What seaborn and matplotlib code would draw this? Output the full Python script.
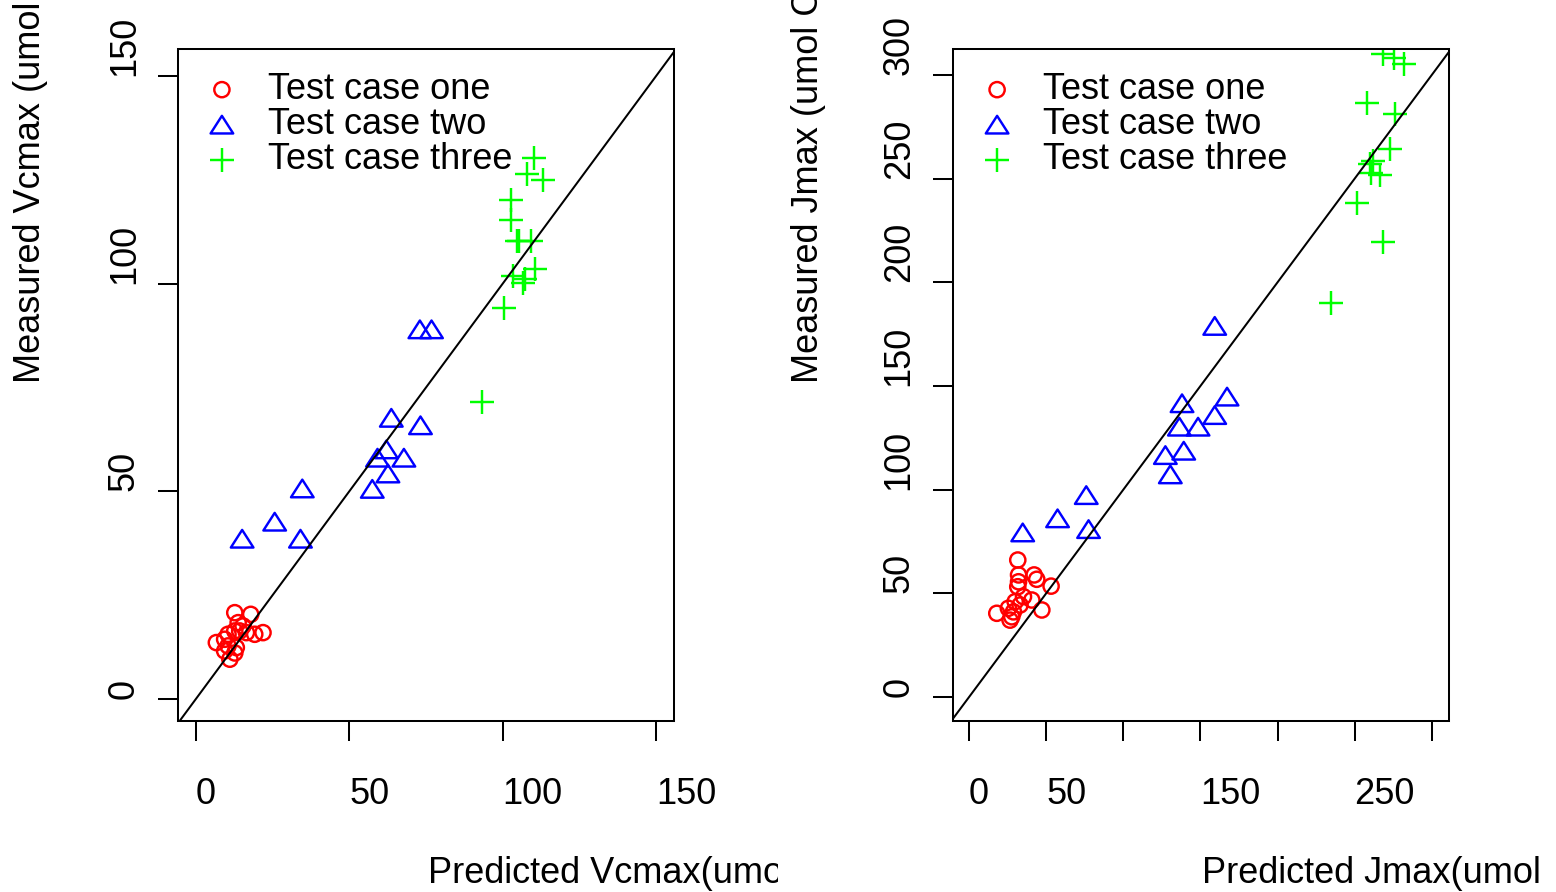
import numpy as np
import pandas as pd
import matplotlib
matplotlib.use("Agg")
import matplotlib.pyplot as plt
import seaborn as sns
from matplotlib.path import Path
from matplotlib.transforms import Bbox, TransformedBbox

# ---------------- data ----------------
legend_labels = ["Test case one", "Test case two", "Test case three"]

# Vcmax panel
vc_one_pred = [12.7, 17.9, 13.8, 15.4, 12.7, 14.3, 21.9, 19.2, 16.5, 10.5, 9.4, 6.7, 10.5, 9.4, 12.7, 11.1, 13.2]
vc_one_meas = [20.8, 20.4, 18.4, 17.6, 16.4, 16.4, 16.0, 15.6, 16.0, 15.6, 14.4, 13.6, 12.8, 11.6, 11.1, 9.6, 12.4]
vc_two_pred = [73.0, 76.8, 63.7, 73.2, 62.1, 59.2, 67.8, 62.6, 57.5, 34.7, 25.7, 15.1, 34.1]
vc_two_meas = [89.0, 89.0, 67.7, 65.9, 60.1, 58.1, 58.1, 54.3, 50.6, 50.7, 42.7, 38.6, 38.6]
vc_three_pred = [110.1, 107.9, 113.2, 102.6, 102.6, 104.5, 105.2, 109.3, 110.4, 103.4, 106.6, 107.4, 100.3, 93.4]
vc_three_meas = [130.2, 126.5, 124.9, 120.1, 115.3, 110.3, 110.3, 110.3, 103.5, 101.9, 100.2, 101.0, 94.1, 71.6]

# Jmax panel
jm_one_pred = [31.6, 32.1, 42.2, 43.9, 32.1, 31.6, 53.2, 35.3, 40.7, 29.9, 33.1, 47.2, 25.5, 18.0, 27.7, 26.6, 28.8]
jm_one_meas = [66.1, 58.9, 58.9, 56.8, 55.6, 53.2, 53.5, 48.4, 46.8, 46.0, 44.4, 42.0, 42.8, 40.4, 38.7, 37.1, 41.1]
jm_two_pred = [159.3, 138.1, 167.3, 159.3, 136.4, 148.5, 139.2, 127.3, 130.5, 76.0, 57.4, 77.5, 34.8]
jm_two_meas = [179.0, 141.7, 144.9, 136.0, 130.4, 130.4, 118.8, 116.7, 107.4, 97.4, 86.2, 81.0, 79.4]
jm_three_pred = [268.6, 275.5, 282.0, 257.8, 276.2, 272.9, 262.1, 260.0, 260.4, 266.4, 251.7, 268.6, 234.9]
jm_three_meas = [310.2, 308.1, 305.4, 286.4, 281.2, 264.2, 258.7, 257.1, 252.6, 251.8, 238.2, 219.3, 189.9]

vc_ticks = [0, 50, 100, 150]
vc_ticklabels = ["0", "50", "100", "150"]
jm_xticks = [0, 50, 100, 150, 200, 250, 300]
jm_xticklabels = ["0", "50", "", "150", "", "250", ""]
jm_yticks = [0, 50, 100, 150, 200, 250, 300]
jm_yticklabels = ["0", "50", "100", "150", "200", "250", "300"]

vc_xlabel = "Predicted Vcmax(umol m-2 s-1)"
vc_ylabel = "Measured Vcmax (umol m-2 s-1)"
jm_xlabel = "Predicted Jmax(umol m-2 s-1)"
jm_ylabel = "Measured Jmax (umol CO2 m-2 s-1)"

# ---------------- style ----------------
sns.set_style("white")
plt.rcParams["font.family"] = ["Liberation Sans", "DejaVu Sans"]
plt.rcParams["text.color"] = "black"
FS = 26
LW = 1.45
MLW = 1.75

tri = Path([(0, 0.78), (-1, -0.78), (1, -0.78), (0, 0.78)],
           [Path.MOVETO, Path.LINETO, Path.LINETO, Path.CLOSEPOLY])
styles = [
    dict(marker="o", s=120, color="#FF0000", facecolor="none", edgecolor="#FF0000", linewidth=MLW),
    dict(marker=tri, s=265, color="#0000FF", facecolor="none", edgecolor="#0000FF", linewidth=MLW),
    dict(marker="+", s=310, color="#00FF00", linewidth=MLW),
]

fig = plt.figure(figsize=(15.56, 8.92), dpi=100)
ax1 = fig.add_axes([178.3 / 1556, 1 - 720.7 / 892, 495.7 / 1556, 671.4 / 892])
ax2 = fig.add_axes([953 / 1556, 1 - 720.7 / 892, 495.7 / 1556, 671.4 / 892])


def panel(ax, series, xlim, ylim, xticks, xtl, yticks, ytl, leg_x):
    for (xs, ys), lab, st in zip(series, legend_labels, styles):
        df = pd.DataFrame({"pred": xs, "meas": ys})
        sns.scatterplot(data=df, x="pred", y="meas", ax=ax, label=lab, **st)
    ax.axline((0, 0), slope=1, color="black", linewidth=LW, zorder=1)
    ax.set_xlim(*xlim)
    ax.set_ylim(*ylim)
    ax.set_xlabel("")
    ax.set_ylabel("")
    for sp in ax.spines.values():
        sp.set_visible(True)
        sp.set_color("black")
        sp.set_linewidth(LW)
    ax.set_xticks(xticks)
    ax.set_xticklabels(xtl)
    ax.set_yticks(yticks)
    ax.set_yticklabels(ytl)
    ax.tick_params(axis="both", direction="out", length=14.4, width=LW, color="black",
                   labelsize=FS, labelcolor="black", bottom=True, left=True)
    ax.tick_params(axis="x", pad=26)
    ax.tick_params(axis="y", pad=17.5)
    for t in ax.get_xticklabels():
        t.set_ha("left")
    for t in ax.get_yticklabels():
        t.set_rotation(90)
        t.set_rotation_mode("anchor")
        t.set_ha("left")
        t.set_va("baseline")
    leg = ax.legend(loc="upper left", bbox_to_anchor=(leg_x, 0.966), frameon=False,
                    borderpad=0, borderaxespad=0, handlelength=0.96, handletextpad=0.79,
                    labelspacing=0.0, fontsize=FS)
    for txt in leg.get_texts():
        txt.set_color("black")


panel(ax1, [(vc_one_pred, vc_one_meas), (vc_two_pred, vc_two_meas), (vc_three_pred, vc_three_meas)],
      (-5.7, 155.8), (-5.2, 156.4), vc_ticks, vc_ticklabels, vc_ticks, vc_ticklabels, 0.053)
panel(ax2, [(jm_one_pred, jm_one_meas), (jm_two_pred, jm_two_meas), (jm_three_pred, jm_three_meas)],
      (-10.4, 311.0), (-11.4, 312.4), jm_xticks, jm_xticklabels, jm_yticks, jm_yticklabels, 0.054)

# axis titles (cut off by the figure regions, as in the original)
left_clip = TransformedBbox(Bbox([[0, 0], [778 / 1556, 1]]), fig.transFigure)
right_clip = TransformedBbox(Bbox([[778 / 1556, 0], [1547 / 1556, 1]]), fig.transFigure)

t = fig.text(428 / 1556, 1 - 883 / 892, vc_xlabel, fontsize=FS, ha="left", va="baseline", color="black")
t.set_clip_box(left_clip); t.set_clip_on(True)
t = fig.text(1202 / 1556, 1 - 883 / 892, jm_xlabel, fontsize=FS, ha="left", va="baseline", color="black")
t.set_clip_box(right_clip); t.set_clip_on(True)
fig.text(31 / 1556, 1 - 383 / 892, vc_ylabel, fontsize=FS, rotation=90, ha="center", va="bottom", color="black")
fig.text(808 / 1556, 1 - 383 / 892, jm_ylabel, fontsize=FS, rotation=90, ha="center", va="bottom", color="black")

fig.savefig("out.png", dpi=100)
